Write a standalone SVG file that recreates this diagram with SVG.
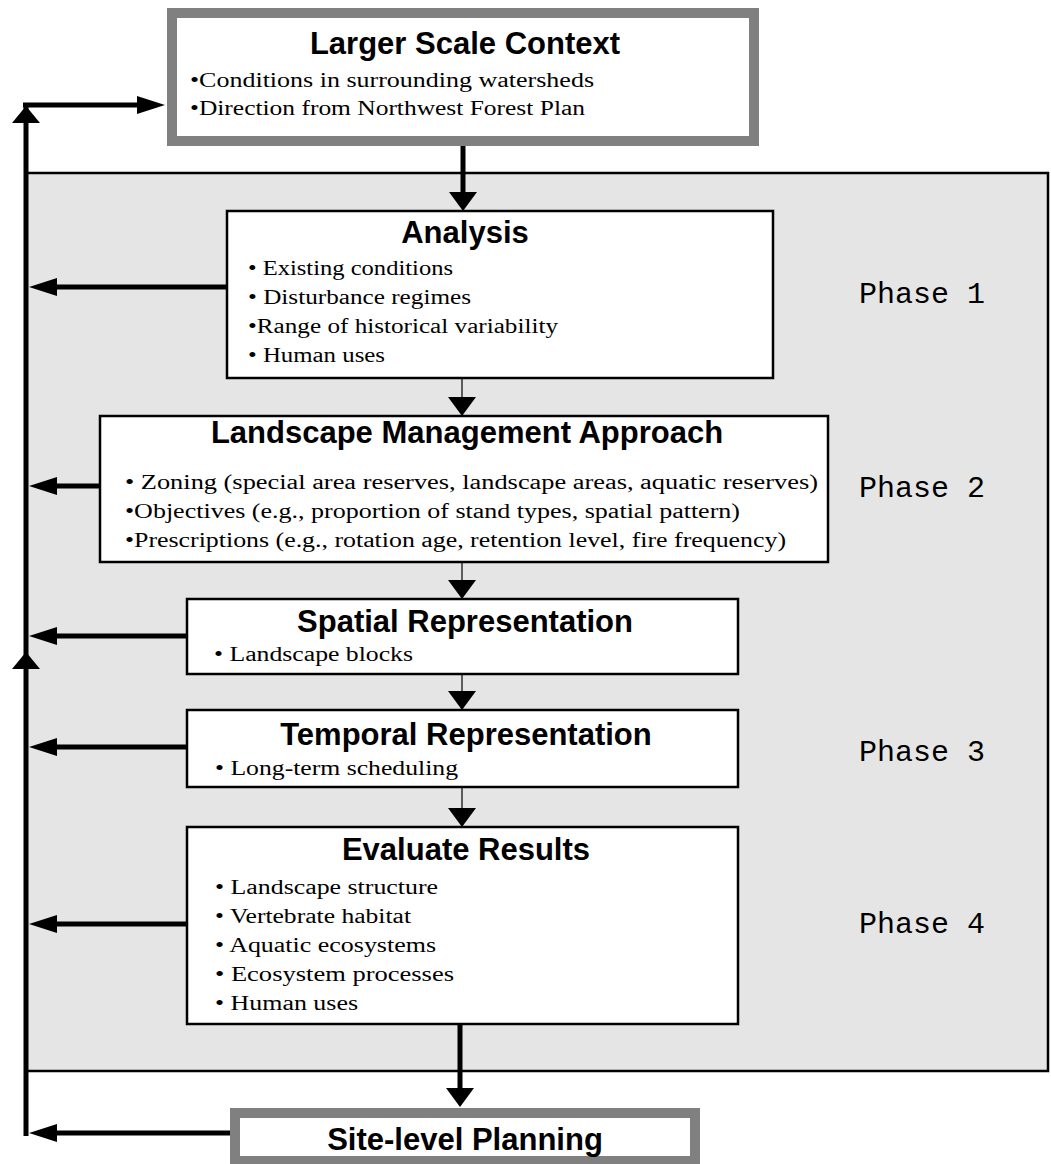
<svg xmlns="http://www.w3.org/2000/svg" xmlns:xlink="http://www.w3.org/1999/xlink" width="1051" height="1164" viewBox="0 0 1051 1164">
<style>
.title{font-family:"Liberation Sans",Arial,sans-serif;font-weight:bold;font-size:31px;text-anchor:middle;fill:#000}
.item{font-family:"Liberation Serif","Times New Roman",serif;font-size:20px;fill:#000}
.phase{font-family:"Liberation Mono","Courier New",monospace;font-size:30px;fill:#000}
.box{fill:#fff;stroke:#000;stroke-width:2.5}
.gbox{fill:#fff;stroke:#808080;stroke-width:10}
.thick{stroke:#000;stroke-width:5;fill:none}
.thin{stroke:#000;stroke-width:1.2;fill:none}
</style>
<defs>
<marker id="hL" markerUnits="userSpaceOnUse" markerWidth="28" markerHeight="18" viewBox="0 0 28 18" refX="0" refY="9" orient="auto"><path d="M0,0 L28,9 L0,18 z" fill="#000"/></marker>
<marker id="hD" markerUnits="userSpaceOnUse" markerWidth="19" markerHeight="28" viewBox="0 0 19 28" refX="0" refY="14" orient="auto"><path d="M0,0 L19,14 L0,28 z" fill="#000"/></marker>
<path id="upHead" d="M0,0 L14,17 L-14,17 z" fill="#000"/>
</defs>

<rect id="panel" x="26" y="173" width="1022" height="898" fill="#e5e5e5" stroke="#000" stroke-width="2.5"/>

<g id="n-context">
<rect class="gbox" x="172" y="13" width="582" height="128"/>
<text class="title" x="465" y="54">Larger Scale Context</text>
<text class="item" x="190" y="87" textLength="404" lengthAdjust="spacingAndGlyphs">•Conditions in surrounding watersheds</text>
<text class="item" x="190" y="115" textLength="395" lengthAdjust="spacingAndGlyphs">•Direction from Northwest Forest Plan</text>
</g>

<g id="n-analysis">
<rect class="box" x="227" y="211" width="546" height="167"/>
<text class="title" x="465" y="243">Analysis</text>
<text class="item" x="248" y="275" textLength="205" lengthAdjust="spacingAndGlyphs">• Existing conditions</text>
<text class="item" x="248" y="304" textLength="223" lengthAdjust="spacingAndGlyphs">• Disturbance regimes</text>
<text class="item" x="248" y="333" textLength="310" lengthAdjust="spacingAndGlyphs">•Range of historical variability</text>
<text class="item" x="248" y="362" textLength="137" lengthAdjust="spacingAndGlyphs">• Human uses</text>
</g>

<g id="n-approach">
<rect class="box" x="100" y="416" width="728" height="146"/>
<text class="title" x="467" y="443">Landscape Management Approach</text>
<text class="item" x="125" y="489" textLength="693" lengthAdjust="spacingAndGlyphs">• Zoning (special area reserves, landscape areas, aquatic reserves)</text>
<text class="item" x="125" y="518" textLength="615" lengthAdjust="spacingAndGlyphs">•Objectives (e.g., proportion of stand types, spatial pattern)</text>
<text class="item" x="125" y="547" textLength="661" lengthAdjust="spacingAndGlyphs">•Prescriptions (e.g., rotation age, retention level, fire frequency)</text>
</g>

<g id="n-spatial">
<rect class="box" x="187" y="599" width="551" height="75"/>
<text class="title" x="465" y="632">Spatial Representation</text>
<text class="item" x="214" y="661" textLength="199" lengthAdjust="spacingAndGlyphs">• Landscape blocks</text>
</g>

<g id="n-temporal">
<rect class="box" x="187" y="710" width="551" height="77"/>
<text class="title" x="466" y="745">Temporal Representation</text>
<text class="item" x="215" y="775" textLength="243" lengthAdjust="spacingAndGlyphs">• Long-term scheduling</text>
</g>

<g id="n-evaluate">
<rect class="box" x="187" y="827" width="551" height="197"/>
<text class="title" x="466" y="860">Evaluate Results</text>
<text class="item" x="215" y="894" textLength="223" lengthAdjust="spacingAndGlyphs">• Landscape structure</text>
<text class="item" x="215" y="923" textLength="196" lengthAdjust="spacingAndGlyphs">• Vertebrate habitat</text>
<text class="item" x="215" y="952" textLength="221" lengthAdjust="spacingAndGlyphs">• Aquatic ecosystems</text>
<text class="item" x="215" y="981" textLength="239" lengthAdjust="spacingAndGlyphs">• Ecosystem processes</text>
<text class="item" x="215" y="1010" textLength="143" lengthAdjust="spacingAndGlyphs">• Human uses</text>
</g>

<g id="n-site">
<rect class="gbox" x="235" y="1113" width="460" height="48"/>
<text class="title" x="465" y="1150">Site-level Planning</text>
</g>

<g id="phases">
<text class="phase" x="859" y="303">Phase 1</text>
<text class="phase" x="859" y="497">Phase 2</text>
<text class="phase" x="859" y="761">Phase 3</text>
<text class="phase" x="859" y="933">Phase 4</text>
</g>

<g id="connectors">
<line class="thick" x1="26" y1="1136" x2="26" y2="103" stroke-width="6"/>
<line class="thick" x1="23" y1="105" x2="137" y2="105" marker-end="url(#hL)"/>
<use xlink:href="#upHead" x="26" y="106"/>
<use xlink:href="#upHead" x="26" y="652"/>
<line class="thick" x1="463" y1="146" x2="463" y2="192" stroke-width="4" marker-end="url(#hD)"/>
<line class="thin" x1="462" y1="378" x2="462" y2="397" marker-end="url(#hD)"/>
<line class="thin" x1="462" y1="562" x2="462" y2="580" marker-end="url(#hD)"/>
<line class="thin" x1="462" y1="674" x2="462" y2="691" marker-end="url(#hD)"/>
<line class="thin" x1="462" y1="787" x2="462" y2="808" marker-end="url(#hD)"/>
<line class="thick" x1="460" y1="1024" x2="460" y2="1088" stroke-width="3" marker-end="url(#hD)"/>
<line class="thick" x1="227" y1="287" x2="57" y2="287" marker-end="url(#hL)"/>
<line class="thick" x1="100" y1="486" x2="57" y2="486" marker-end="url(#hL)"/>
<line class="thick" x1="187" y1="636" x2="57" y2="636" marker-end="url(#hL)"/>
<line class="thick" x1="187" y1="747" x2="57" y2="747" marker-end="url(#hL)"/>
<line class="thick" x1="187" y1="924" x2="57" y2="924" marker-end="url(#hL)"/>
<line class="thick" x1="230" y1="1133" x2="57" y2="1133" marker-end="url(#hL)"/>
</g>
</svg>
